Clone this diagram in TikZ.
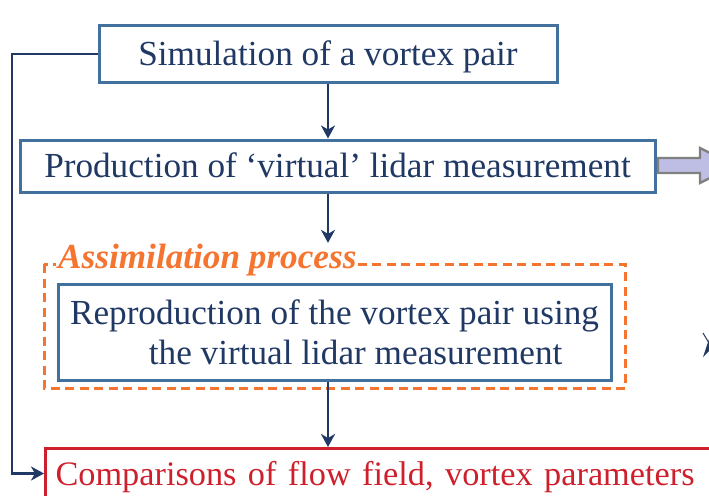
\documentclass[tikz,border=0pt]{standalone}
\usepackage{fontspec}
\setmainfont{Liberation Serif}
\usetikzlibrary{arrows.meta,positioning}

\definecolor{navy1}{RGB}{32,56,100}
\definecolor{blue1}{RGB}{65,113,156}
\definecolor{orange1}{RGB}{244,116,48}
\definecolor{red1}{RGB}{205,32,44}
\definecolor{lav1}{RGB}{190,190,228}
\definecolor{gray1}{RGB}{128,128,128}

\tikzstyle{arrow} = [draw, navy1, line width=2.7pt, -{Stealth[length=13pt,width=14pt,inset=4pt]}]
\tikzstyle{procbox} = [draw=blue1, line width=3pt, text=navy1, align=center,
    inner sep=0pt, font=\fontsize{35.2}{40}\selectfont]
\tikzstyle{oneline} = [text height=23.5pt, text depth=0pt]

\begin{document}
\begin{tikzpicture}[x=1pt, y=-1pt]
    \useasboundingbox (0,0) rectangle (709,495);
    \clip (0,0) rectangle (709,495);

    % process boxes
    \node[procbox, oneline, minimum width=458pt, minimum height=56pt] (sim) at (328,54)
        {Simulation of a vortex pair};
    \node[procbox, oneline, minimum width=635pt, minimum height=52pt] (prod) at (337.5,166)
        {Production of ‘virtual’ lidar measurement};

    % assimilation group
    \draw[orange1, line width=3pt, dash pattern=on 9pt off 5.5pt] (44,264) rectangle (625,388);
    \node[fill=white, text=orange1, anchor=base west, inner xsep=2pt, inner ysep=1pt,
        font=\fontsize{35.2}{40}\selectfont\bfseries\itshape] (assim) at (56,268.5)
        {Assimilation process};
    \node[procbox, minimum width=553pt, minimum height=96pt] (repro) at (334.5,332)
        {Reproduction of the vortex pair using\\ \hspace*{1.2em}the virtual lidar measurement};

    % result box
    \node[procbox, oneline, draw=red1, text=red1, anchor=north west, minimum width=720pt,
        minimum height=50pt, align=left, text width=700pt, inner xsep=10pt,
        font=\fontsize{34.3}{40}\selectfont] (cmp) at (44,447)
        {Comparisons of flow field, vortex parameters};

    % flow
    \draw[arrow] (sim.south) -- (sim.south |- prod.north);
    \draw[arrow] (prod.south -| sim.south) -- (sim.south |- assim.north);
    \draw[arrow] (repro.south -| sim.south) -- (sim.south |- cmp.north);

    % feedback
    \coordinate (fb) at (12,0);
    \draw[arrow] (sim.west) -- (sim.west -| fb) |- (cmp.west);

    % side arrows (cut off)
    \draw[gray1, fill=lav1, line width=2.4pt] (658,158) -- (700,158) -- (700,148)
        -- (735,165.5) -- (700,183) -- (700,173) -- (658,173) -- cycle;
    \draw[navy1, line width=1pt] (703,333) -- (709,343);
    \fill[navy1] (709,339) -- (709,351) -- (703,357) -- cycle;
\end{tikzpicture}
\end{document}
